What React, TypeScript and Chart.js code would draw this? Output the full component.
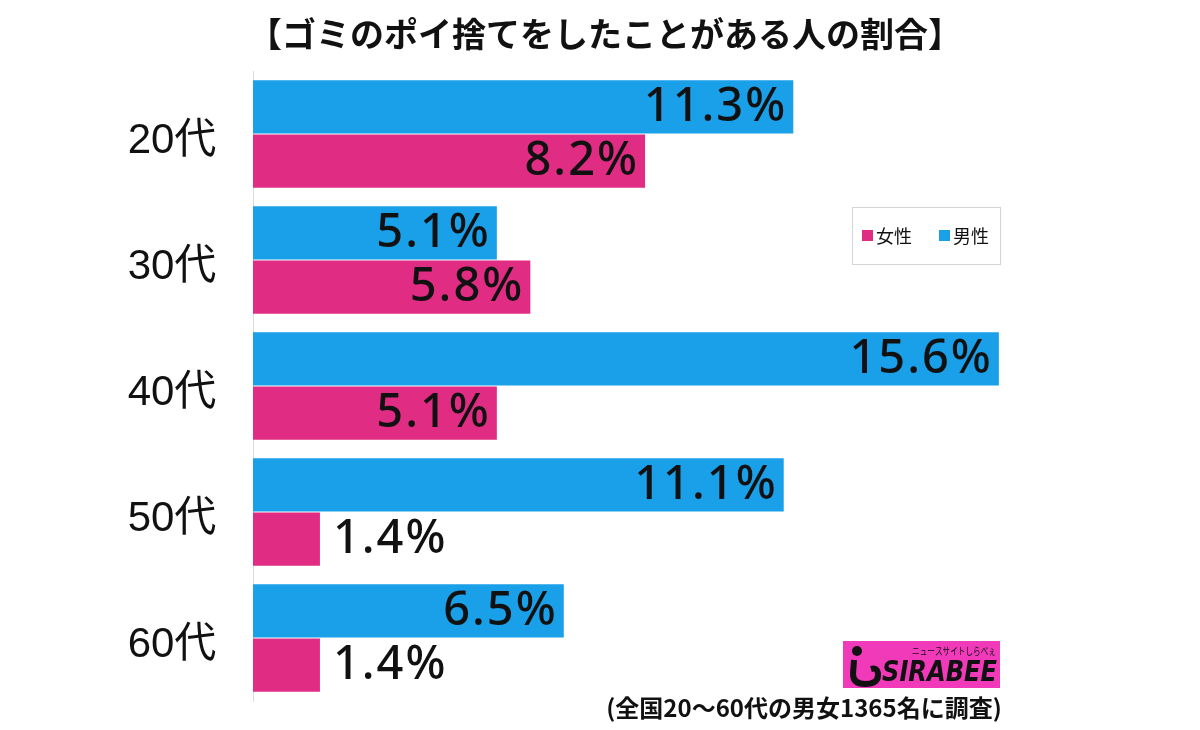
import React, { useEffect, useRef } from "react";
import { Chart, registerables } from "chart.js";

Chart.register(...registerables);

const categories = ["20代", "30代", "40代", "50代", "60代"];
const male = [11.3, 5.1, 15.6, 11.1, 6.5];
const female = [8.2, 5.8, 5.1, 1.4, 1.4];
const titleText = "【ゴミのポイ捨てをしたことがある人の割合】";
const footerText = "(全国20〜60代の男女1365名に調査)";
const legendLabels = ["女性", "男性"];

const BLUE = "#1A9FE9";
const PINK = "#E02C82";
const JP = '"Noto Sans CJK JP", "Noto Sans", sans-serif';
const CAT = '"Liberation Sans", "Noto Sans CJK JP", sans-serif';
const NUM = '"Noto Sans", Lato, sans-serif';

const overlayPlugin = {
  id: "overlay",
  afterDatasetsDraw(chart: any) {
    const ctx = chart.ctx;
    ctx.save();
    ctx.font = `500 47px ${NUM}`;
    (ctx as any).letterSpacing = "2px";
    ctx.textBaseline = "middle";
    ctx.fillStyle = "#111";
    chart.data.datasets.forEach((ds: any, di: number) => {
      const meta = chart.getDatasetMeta(di);
      meta.data.forEach((bar: any, i: number) => {
        const v = ds.data[i];
        const txt = v.toFixed(1) + "%";
        const w = ctx.measureText(txt).width;
        const barW = bar.x - bar.base;
        const y = bar.y + 1;
        if (w + 16 < barW) {
          ctx.textAlign = "right";
          ctx.fillText(txt, bar.x - 6, y);
        } else {
          ctx.textAlign = "left";
          ctx.fillText(txt, bar.x + 13, y);
        }
      });
    });
    (ctx as any).letterSpacing = "0px";
    // category labels
    const yScale = chart.scales.y;
    ctx.font = `42px ${CAT}`;
    ctx.textAlign = "center";
    categories.forEach((c, i) => {
      ctx.fillText(c, 172, yScale.getPixelForValue(i) + 7);
    });
    ctx.restore();
  },
  afterDraw(chart: any) {
    const ctx = chart.ctx;
    ctx.save();
    // title
    ctx.fillStyle = "#111";
    ctx.font = `bold 34px ${JP}`;
    ctx.textAlign = "center";
    ctx.textBaseline = "middle";
    ctx.fillText(titleText, 605, 34);

    // legend box
    ctx.fillStyle = "#fff";
    ctx.fillRect(852.5, 207.5, 148, 57);
    ctx.strokeStyle = "#d4d4d4";
    ctx.lineWidth = 1;
    ctx.strokeRect(852.5, 207.5, 148, 57);
    ctx.font = `18px ${JP}`;
    ctx.textAlign = "left";
    ctx.fillStyle = PINK;
    ctx.fillRect(862, 230, 11, 11);
    ctx.fillStyle = "#111";
    ctx.fillText(legendLabels[0], 876, 236);
    ctx.fillStyle = BLUE;
    ctx.fillRect(939, 230, 11, 11);
    ctx.fillStyle = "#111";
    ctx.fillText(legendLabels[1], 953, 236);

    // logo
    ctx.fillStyle = "#F03AB9";
    ctx.fillRect(843, 641, 157, 47);
    ctx.fillStyle = "#111";
    ctx.beginPath();
    ctx.arc(857, 651, 5, 0, Math.PI * 2);
    ctx.fill();
    ctx.lineWidth = 6;
    ctx.strokeStyle = "#111";
    ctx.beginPath();
    ctx.moveTo(854, 660);
    ctx.lineTo(853, 674);
    ctx.quadraticCurveTo(853, 684, 865, 684);
    ctx.quadraticCurveTo(878, 684, 878, 675);
    ctx.quadraticCurveTo(878, 667, 871, 669);
    ctx.stroke();
    ctx.font = `10px ${JP}`;
    ctx.fillText("ニュースサイトしらべぇ", 912, 651, 84);
    ctx.font = `italic 900 28px ${'"DejaVu Sans", Lato, sans-serif'}`;
    ctx.fillText("SIRABEE", 882, 674, 115);

    // footer
    ctx.font = `bold 24px ${JP}`;
    ctx.textAlign = "center";
    ctx.fillStyle = "#111";
    ctx.fillText(footerText, 804, 708);
    ctx.restore();
  },
};

export default function App() {
  const ref = useRef<HTMLCanvasElement>(null);
  useEffect(() => {
    document.body.style.margin = "0";
    const chart = new Chart(ref.current!, {
      type: "bar",
      data: {
        labels: categories,
        datasets: [
          { label: "男性", data: male, backgroundColor: BLUE, categoryPercentage: 0.86, barPercentage: 0.98 },
          { label: "女性", data: female, backgroundColor: PINK, categoryPercentage: 0.86, barPercentage: 0.98 },
        ],
      },
      options: {
        indexAxis: "y",
        animation: false,
        responsive: false,
        layout: { padding: { top: 71, bottom: 29, left: 0, right: 182 } },
        plugins: { legend: { display: false }, tooltip: { enabled: false }, title: { display: false } },
        scales: {
          x: { display: false, min: 0, max: 16 },
          y: {
            afterFit(axis: any) {
              axis.width = 253;
              axis.paddingTop = 0;
              axis.paddingBottom = 0;
            },
            grid: { display: false, drawTicks: false },
            border: { display: true, color: "#dcdcdc", width: 1 },
            ticks: { display: false },
          },
        },
      },
      plugins: [overlayPlugin],
    });
    return () => chart.destroy();
  }, []);
  return (
    <div style={{ position: "fixed", left: 0, top: 0, width: 1200, height: 730, background: "#fff" }}>
      <canvas ref={ref} width={1200} height={730} />
    </div>
  );
}
